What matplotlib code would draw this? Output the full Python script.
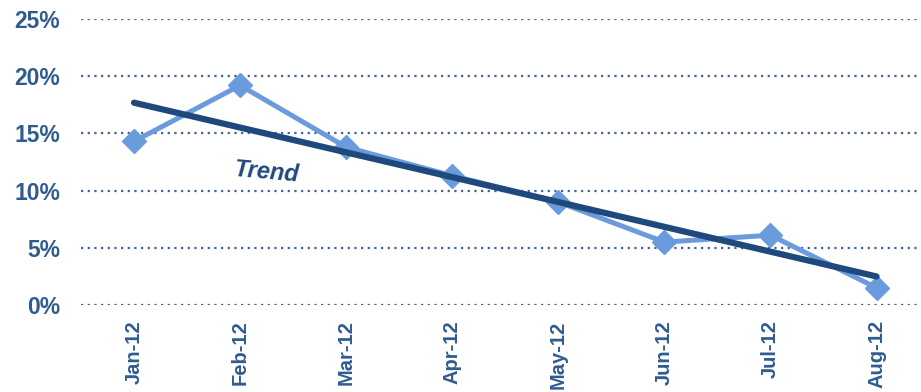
import numpy as np
import matplotlib.pyplot as plt

plt.rcParams.update({
    "font.family": ["Liberation Sans", "DejaVu Sans"],
    "font.weight": "bold",
})

months = ["Jan-12", "Feb-12", "Mar-12", "Apr-12", "May-12", "Jun-12", "Jul-12", "Aug-12"]
share = [14.3, 19.2, 13.8, 11.3, 9.0, 5.5, 6.1, 1.5]
yticks = [0, 5, 10, 15, 20, 25]

text_col = "#2F5C8F"
light_col = "#6A9BDD"
dark_col = "#1F497D"


def main():
    fig = plt.figure(figsize=(9.21, 3.92), dpi=100)
    ax = fig.add_axes([81 / 921, 1 - 305 / 392, 838 / 921, 286 / 392])

    x = np.arange(len(months))
    ax.plot(x, share, color=light_col, linewidth=3.6, marker="D",
            markersize=12, zorder=3)

    slope, icpt = np.polyfit(x, share, 1)
    ends = np.array([x[0], x[-1]])
    ax.plot(ends, slope * ends + icpt, color=dark_col, linewidth=4.5,
            solid_capstyle="round", zorder=4)

    ax.text(1.25, 11.6, "Trend", color=dark_col, fontsize=17, fontstyle="italic",
            fontweight="bold", rotation=-5, ha="center", va="center")

    ax.set_xlim(-0.5, 7.4)
    ax.set_ylim(0, 25)
    ax.set_yticks(yticks)
    ax.set_yticklabels([f"{v}%" for v in yticks])
    ax.set_xticks(x)
    ax.set_xticklabels(months, rotation=90)

    for s in ax.spines.values():
        s.set_visible(False)
    ax.tick_params(axis="both", length=0, colors=text_col, labelsize=16.5)
    ax.tick_params(axis="y", pad=15)
    ax.tick_params(axis="x", pad=11, labelsize=14.5)
    ax.set_axisbelow(True)
    ax.yaxis.grid(True, linestyle=(0, (1, 2.0)), color="#3F6495", linewidth=1.6)
    for ln in ax.lines:
        ln.set_clip_on(False)

    fig.savefig("out.png", dpi=100)


if __name__ == "__main__":
    main()
